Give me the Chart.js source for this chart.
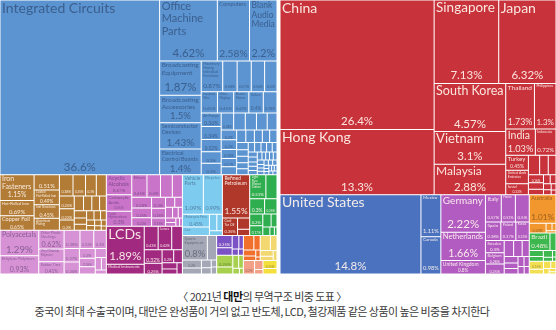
<!DOCTYPE html>
<html>
<head>
<meta charset="utf-8">
<script src="https://cdn.jsdelivr.net/npm/chart.js@4.4.1/dist/chart.umd.min.js"></script>
<style>
  body { margin: 0; background: #fff; width: 556px; height: 330px; overflow: hidden; position: relative; }
  #products { position: absolute; left: 0; top: 0; }
  #partners { position: absolute; left: 280px; top: 0; }
  .cap { position: absolute; left: 0; width: 524px; text-align: center; font-family: "Noto Sans CJK KR", sans-serif;
         font-size: 11px; line-height: 14px; color: #3a3a3a; letter-spacing: -0.55px; white-space: nowrap; }
  .cap b { color: #111; }
</style>
</head>
<body>
<canvas id="products" width="277" height="274"></canvas>
<canvas id="partners" width="276" height="274"></canvas>
<div class="cap" style="top:289px">〈 2021년 <b>대만</b>의 무역구조 비중 도표 〉</div>
<div class="cap" style="top:304px">중국이 최대 수출국이며, 대만은 완성품이 거의 없고 반도체, LCD, 철강제품 같은 상품이 높은 비중을 차지한다</div>
<script>
// ---- exports by product, share of total (%) ----
const machineNames = ['Integrated Circuits', 'Office Machine Parts', 'Computers', 'Blank Audio Media',
  'Broadcasting Equipment', 'Broadcasting Accessories', 'Semiconductor Devices', 'Electrical Control Boards',
  'Machinery Having Individual Functions', 'Electrical Transformers', 'Telephones', 'Electric Batteries',
  'Printed Circuit Boards', 'Insulated Wire', 'Video Displays', 'Electric Motors', 'Valves',
  'Low-voltage Protection Equipment', 'Air Pumps', 'Metalworking Machines'];
const machineShares = [36.6, 4.62, 2.58, 2.2, 1.87, 1.5, 1.43, 1.4,
  0.87, 0.58, 0.57, 0.54, 0.5, 0.45, 0.45, 0.42, 0.4, 0.38, 0.36, 0.34,
  0.32, 0.3, 0.3, 0.28, 0.26, 0.25, 0.24, 0.22, 0.2, 0.2,
  0.18, 0.17, 0.16, 0.15, 0.14, 0.13, 0.12, 0.12, 0.11, 0.1, 0.1, 0.09, 0.09, 0.08, 0.08, 0.07, 0.07,
  0.06, 0.06, 0.06, 0.05, 0.05, 0.05, 0.05, 0.04, 0.04, 0.04, 0.04, 0.04,
  0.03, 0.03, 0.03, 0.03, 0.03, 0.03, 0.02, 0.02, 0.02, 0.02, 0.02, 0.02, 0.02, 0.02];

const metalNames = ['Iron Fasteners', 'Hot-Rolled Iron', 'Copper Foil', 'Large Flat-Rolled Stainless Steel',
  'Coated Flat-Rolled Iron', 'Iron Structures', 'Aluminium Plating', 'Other Iron Products'];
const metalShares = [1.15, 0.69, 0.65, 0.51, 0.49, 0.45, 0.4, 0.38, 0.35, 0.3, 0.28, 0.25, 0.22, 0.2,
  0.18, 0.16, 0.15, 0.13, 0.12, 0.1, 0.1, 0.09, 0.08, 0.07, 0.06, 0.05, 0.05, 0.04, 0.04, 0.03];

const plasticNames = ['Polyacetals', 'Ethylene Polymers', 'Other Plastic Sheetings', 'Vinyl Chloride Polymers',
  'Rubber Tires', 'Propylene Polymers', 'Acrylic Polymers'];
const plasticShares = [1.29, 0.93, 0.62, 0.42, 0.41, 0.38, 0.33, 0.3, 0.27, 0.24, 0.2, 0.18, 0.15, 0.13,
  0.1, 0.08, 0.06];

const chemicalNames = ['Acyclic Alcohols', 'Carboxylic Acids', 'Cyclic Hydrocarbons', 'Ethers', 'Nitrogen Compounds'];
const chemicalShares = [0.67, 0.55, 0.5, 0.45, 0.4, 0.35, 0.3, 0.28, 0.25, 0.22, 0.2, 0.18, 0.15, 0.12,
  0.1, 0.1, 0.08, 0.06, 0.06, 0.05, 0.04, 0.03];

const instrumentNames = ['LCDs', 'Medical Instruments', 'Optical Instruments', 'Lenses', 'Liquid Measuring Instruments',
  'Photo Lab Equipment'];
const instrumentShares = [1.89, 0.49, 0.43, 0.42, 0.33, 0.32, 0.25, 0.2, 0.15, 0.12, 0.1, 0.08];

const transportNames = ['Vehicle Parts', 'Bicycles', 'Motorcycle Parts', 'Cars'];
const transportShares = [1.09, 0.99, 0.45, 0.3, 0.16, 0.12, 0.08];

const mineralNames = ['Refined Petroleum', 'Coal Tar Oil'];
const mineralShares = [1.55, 0.35, 0.18, 0.1];

const greenNames = ['Light Pure Woven Cotton', 'Synthetic Filament Yarn'];
const greenShares = [0.51, 0.35, 0.3, 0.25, 0.2, 0.17, 0.14, 0.1, 0.08, 0.05, 0.03];

const miscNames = ['Sports Equipment'];
const miscShares = [0.8, 0.3, 0.2, 0.15, 0.1, 0.08, 0.05, 0.05];

const textileShares = [0.25, 0.15, 0.12, 0.08, 0.05, 0.04];
const orangeShares = [0.2, 0.12, 0.1, 0.07, 0.04, 0.02];
const yellowShares = [0.2, 0.13, 0.1, 0.07, 0.05];
const limeShares = [0.25, 0.15, 0.1, 0.08, 0.05, 0.03];
const salmonShares = [0.2, 0.1, 0.05];
const goldShares = [0.15, 0.1];

// ---- exports by destination, share of total (%) ----
const asiaNames = ['China', 'Hong Kong', 'Singapore', 'Japan', 'South Korea', 'Vietnam', 'Malaysia', 'Thailand',
  'Philippines', 'India', 'Indonesia', 'Turkey', 'United Arab Emirates', 'Israel', 'Bangladesh', 'Saudi Arabia',
  'Pakistan', 'Cambodia', 'Sri Lanka', 'Myanmar', 'Kuwait', 'Macau', 'Qatar', 'Kazakhstan', 'Oman', 'Jordan'];
const asiaShares = [26.4, 13.3, 7.13, 6.32, 4.57, 3.1, 2.88, 1.73, 1.3, 1.03, 0.72, 0.45, 0.4, 0.33, 0.29, 0.22,
  0.2, 0.16, 0.13, 0.11, 0.08, 0.07, 0.06, 0.05, 0.04, 0.03];

const americaNames = ['United States', 'Mexico', 'Canada'];
const americaShares = [14.8, 1.11, 0.98];

const europeNames = ['Germany', 'Netherlands', 'United Kingdom', 'Italy', 'France', 'Czechia', 'Spain', 'Poland',
  'Russia', 'Sweden', 'Belgium', 'Switzerland', 'Hungary', 'Slovakia', 'Denmark', 'Austria', 'Finland', 'Norway',
  'Portugal', 'Ireland', 'Romania', 'Greece'];
const europeShares = [2.22, 1.66, 0.8, 0.57, 0.51, 0.5, 0.38, 0.37, 0.33, 0.3, 0.28, 0.25, 0.2, 0.18, 0.15,
  0.12, 0.1, 0.1, 0.08, 0.07, 0.06, 0.05];

const oceaniaNames = ['Australia', 'New Zealand', 'Papua New Guinea', 'Fiji', 'Guam'];
const oceaniaShares = [1.01, 0.22, 0.06, 0.04, 0.03];

const southAmericaNames = ['Brazil', 'Chile', 'Argentina', 'Colombia', 'Peru', 'Ecuador', 'Uruguay', 'Paraguay'];
const southAmericaShares = [0.48, 0.14, 0.11, 0.09, 0.08, 0.05, 0.03, 0.02];

const africaNames = ['South Africa', 'Egypt', 'Nigeria', 'Morocco', 'Kenya', 'Algeria', 'Ghana'];
const africaShares = [0.15, 0.09, 0.07, 0.05, 0.04, 0.03, 0.02];

// colour and label ink for each section
const productGroups = [
  { names: machineNames, shares: machineShares, color: '#5b94d0', ink: 'dark' },
  { names: metalNames, shares: metalShares, color: '#b27c36', ink: 'light' },
  { names: plasticNames, shares: plasticShares, color: '#d792d6', ink: 'dark' },
  { names: chemicalNames, shares: chemicalShares, color: '#c974c9', ink: 'dark' },
  { names: instrumentNames, shares: instrumentShares, color: '#a12a80', ink: 'light' },
  { names: transportNames, shares: transportShares, color: '#7dcbef', ink: 'dark' },
  { names: mineralNames, shares: mineralShares, color: '#b0382b', ink: 'light' },
  { names: greenNames, shares: greenShares, color: '#2fae50', ink: 'light' },
  { names: miscNames, shares: miscShares, color: '#a4a8b6', ink: 'dark' },
  { names: [], shares: textileShares, color: '#7a52c6', ink: 'light' },
  { names: [], shares: orangeShares, color: '#f0702c', ink: 'light' },
  { names: [], shares: yellowShares, color: '#f3d870', ink: 'dark' },
  { names: [], shares: limeShares, color: '#a6d04e', ink: 'dark' },
  { names: [], shares: salmonShares, color: '#f2a088', ink: 'dark' },
  { names: [], shares: goldShares, color: '#f4e03c', ink: 'dark' }
];

const partnerGroups = [
  { names: asiaNames, shares: asiaShares, color: '#c8323a', ink: 'light' },
  { names: americaNames, shares: americaShares, color: '#4a72bf', ink: 'light' },
  { names: europeNames, shares: europeShares, color: '#b25cc2', ink: 'light' },
  { names: oceaniaNames, shares: oceaniaShares, color: '#f2962e', ink: 'dark' },
  { names: southAmericaNames, shares: southAmericaShares, color: '#3db84f', ink: 'light' },
  { names: africaNames, shares: africaShares, color: '#f3df52', ink: 'dark' }
];

// layout units: x runs 0..100, y is stretched a little so the rows fall the same way
const SPAN_X = 100;
const STRETCH_Y = 1.025;
const PHI = (1 + Math.sqrt(5)) / 2;

// squarified treemap, same row rule as d3.treemapSquarify
function squarify(nodes, x0, y0, x1, y1) {
  let value = nodes.reduce((s, n) => s + n.value, 0);
  const n = nodes.length;
  let i0 = 0;
  while (i0 < n) {
    const dx = x1 - x0, dy = y1 - y0;
    let i1 = i0;
    let sumValue = nodes[i1++].value;
    let minValue = sumValue, maxValue = sumValue;
    const alpha = Math.max(dy / dx, dx / dy) / (value * PHI);
    let beta = sumValue * sumValue * alpha;
    let minRatio = Math.max(maxValue / beta, beta / minValue);
    for (; i1 < n; i1++) {
      const v = nodes[i1].value;
      sumValue += v;
      if (v < minValue) minValue = v;
      if (v > maxValue) maxValue = v;
      beta = sumValue * sumValue * alpha;
      const newRatio = Math.max(maxValue / beta, beta / minValue);
      if (newRatio > minRatio) { sumValue -= v; break; }
      minRatio = newRatio;
    }
    const row = nodes.slice(i0, i1);
    if (dx < dy) {
      const yb = i1 < n ? y0 + dy * sumValue / value : y1;
      let x = x0;
      row.forEach((c, k) => {
        const xe = k === row.length - 1 ? x1 : x + dx * c.value / sumValue;
        Object.assign(c, { x0: x, y0: y0, x1: xe, y1: yb });
        x = xe;
      });
      y0 = yb;
    } else {
      const xb = i1 < n ? x0 + dx * sumValue / value : x1;
      let y = y0;
      row.forEach((c, k) => {
        const ye = k === row.length - 1 ? y1 : y + dy * c.value / sumValue;
        Object.assign(c, { x0: x0, y0: y, x1: xb, y1: ye });
        y = ye;
      });
      x0 = xb;
    }
    value -= sumValue;
    i0 = i1;
  }
}

function buildTree(groups, spanY) {
  const sections = groups.map(g => ({
    color: g.color, ink: g.ink,
    value: g.shares.reduce((s, v) => s + v, 0),
    leaves: g.shares.map((v, i) => ({ name: g.names[i] || '', value: v, color: g.color, ink: g.ink }))
  })).sort((a, b) => b.value - a.value);
  squarify(sections, 0, 0, SPAN_X, spanY);
  const cells = [];
  sections.forEach(s => {
    const leaves = s.leaves.sort((a, b) => b.value - a.value);
    squarify(leaves, s.x0, s.y0, s.x1, s.y1);
    cells.push(...leaves);
  });
  const centre = c => Object.assign(c, { x: (c.x0 + c.x1) / 2, y: (c.y0 + c.y1) / 2 });
  return { cells: cells.map(centre), frames: sections.map(centre) };
}

// rectangles are bar elements placed through the x / y scales
class TreemapController extends Chart.DatasetController {
  static id = 'treemap';
  static defaults = { datasetElementType: false, dataElementType: 'bar' };

  update(mode) {
    const meta = this._cachedMeta;
    this.updateElements(meta.data, 0, meta.data.length, mode);
  }

  updateElements(rects, start, count, mode) {
    const { xScale, yScale } = this._cachedMeta;
    const data = this.getDataset().data;
    for (let i = start; i < start + count; i++) {
      const c = data[i];
      const left = xScale.getPixelForValue(c.x0);
      const right = xScale.getPixelForValue(c.x1);
      const top = yScale.getPixelForValue(c.y0);
      const bottom = yScale.getPixelForValue(c.y1);
      this.updateElement(rects[i], i, {
        x: (left + right) / 2, y: top, base: bottom,
        width: right - left, height: bottom - top,
        horizontal: false, inflateAmount: 0,
        borderSkipped: { top: false, bottom: false, left: false, right: false },
        options: this.resolveDataElementOptions(i, mode)
      }, mode);
    }
  }
}
Chart.register(TreemapController);

const FONT = 'Lato, "Open Sans", sans-serif';
const LINE = 1.12;

function wrapWords(ctx, text, maxW) {
  const lines = [];
  let line = '';
  text.split(' ').forEach(w => {
    const test = line ? line + ' ' + w : w;
    if (!line || ctx.measureText(test).width <= maxW) line = test;
    else { lines.push(line); line = w; }
  });
  if (line) lines.push(line);
  return lines;
}

// largest font size (and its lines) that fits the name into the box
function fitName(ctx, name, room, maxH, start, oneLine) {
  for (let s = start; s >= 3; s -= 0.5) {
    ctx.font = s + 'px ' + FONT;
    const lines = oneLine ? [name] : wrapWords(ctx, name, room);
    const widest = Math.max(...lines.map(l => ctx.measureText(l).width));
    if (widest <= room && lines.length * s * LINE <= maxH) return { s, lines };
  }
  return null;
}

function inkColour(cell) {
  if (cell.ink === 'light') return 'rgba(255,244,238,0.92)';
  const r = parseInt(cell.color.slice(1, 3), 16), g = parseInt(cell.color.slice(3, 5), 16), b = parseInt(cell.color.slice(5, 7), 16);
  return `rgba(${Math.round(r * 0.6)},${Math.round(g * 0.6)},${Math.round(b * 0.65)},0.9)`;
}

const cellLabels = {
  id: 'cellLabels',
  afterDatasetsDraw(chart) {
    const ctx = chart.ctx;
    const cells = chart.data.datasets[0].data;
    chart.getDatasetMeta(0).data.forEach((el, i) => {
      const cell = cells[i];
      const w = el.width, h = el.base - el.y;
      const left = el.x - w / 2, top = el.y, bottom = el.base;
      const room = w - 4;
      if (room < 6) return;
      ctx.save();
      ctx.fillStyle = inkColour(cell);
      let nameH = 0;
      if (cell.name) {
        const start = Math.min(14, Math.floor(h * 0.4 * 2) / 2);
        const wrapped = fitName(ctx, cell.name, room, h * 0.62, start, false);
        const single = fitName(ctx, cell.name, room, h * 0.62, start, true);
        let fit = wrapped;
        if (single && (!wrapped || single.s >= wrapped.s * 0.78)) fit = single;
        if (fit) {
          ctx.font = fit.s + 'px ' + FONT;
          ctx.textBaseline = 'top';
          ctx.textAlign = 'left';
          fit.lines.forEach((l, k) => ctx.fillText(l, left + 2, top + 1 + k * fit.s * LINE));
          nameH = fit.lines.length * fit.s * LINE + 1;
        }
      }
      const pct = cell.value + '%';
      ctx.font = '1px ' + FONT;
      const unit = ctx.measureText(pct).width;
      const p = Math.min(11.5, room / unit, h * 0.38, (h - nameH - 2) / 1.05);
      if (p >= 3) {
        ctx.font = p + 'px ' + FONT;
        ctx.textAlign = 'center';
        ctx.textBaseline = 'alphabetic';
        ctx.fillText(pct, left + w / 2, bottom - Math.min(4, h * 0.12));
      }
      ctx.restore();
    });
  }
};

function drawTreemap(canvasId, groups) {
  const canvas = document.getElementById(canvasId);
  const spanY = SPAN_X * canvas.height / canvas.width * STRETCH_Y;
  const tree = buildTree(groups, spanY);
  return new Chart(canvas, {
    type: 'treemap',
    data: {
      datasets: [
        {
          data: tree.cells,
          backgroundColor: ctx => ctx.raw.color,
          borderColor: 'rgba(255,255,255,0.4)',
          borderWidth: 0.5
        },
        {
          data: tree.frames,
          backgroundColor: 'rgba(0,0,0,0)',
          borderColor: '#ffffff',
          borderWidth: 1
        }
      ]
    },
    options: {
      responsive: false,
      animation: false,
      devicePixelRatio: 1,
      events: [],
      layout: { padding: 0 },
      scales: {
        x: { type: 'linear', min: 0, max: SPAN_X, display: false },
        y: { type: 'linear', min: 0, max: spanY, reverse: true, display: false }
      },
      plugins: { legend: { display: false }, tooltip: { enabled: false } }
    },
    plugins: [cellLabels]
  });
}

drawTreemap('products', productGroups);
drawTreemap('partners', partnerGroups);
</script>
</body>
</html>
